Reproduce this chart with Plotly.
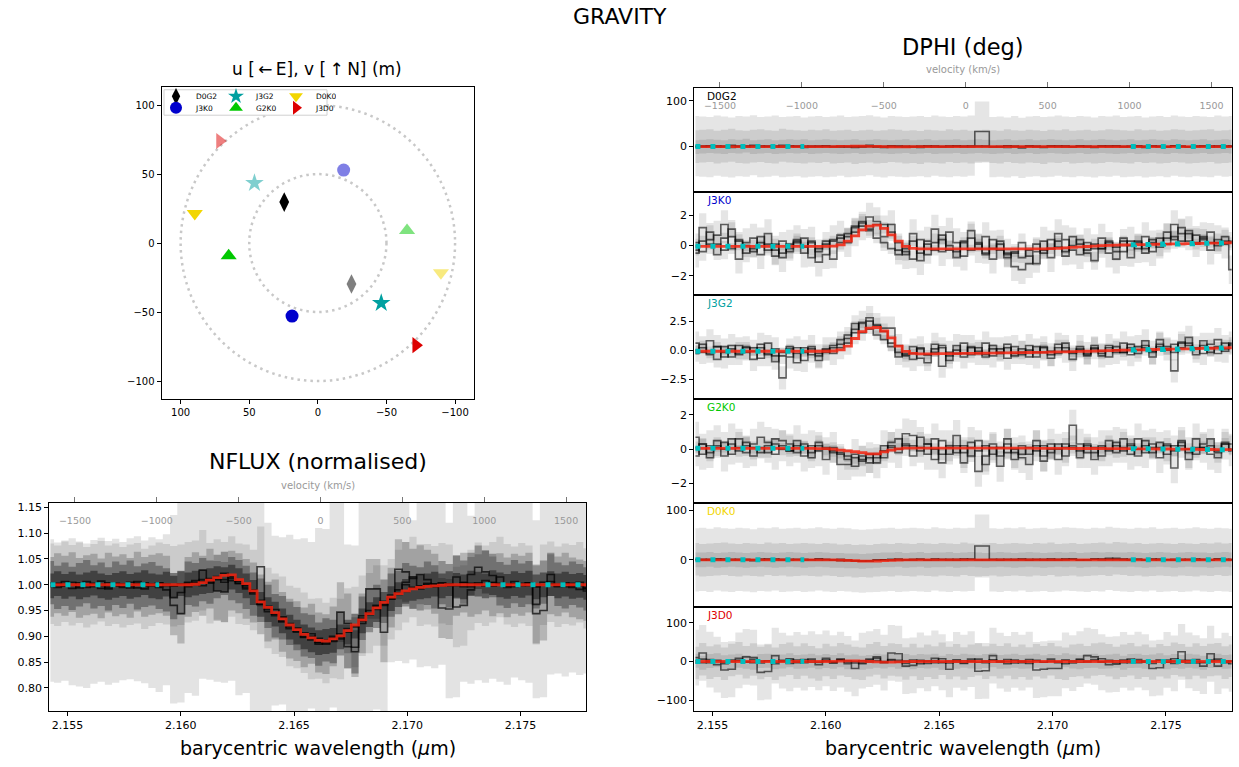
import plotly.graph_objects as go

# ======================= DATA =======================
wave = [
    2.15425, 2.15457, 2.15489, 2.15521, 2.15553, 2.15585, 2.15617, 2.15649, 2.15681, 2.15713, 2.15745, 2.15777, 2.15809, 2.15841, 2.15873,
    2.15905, 2.15937, 2.15969, 2.16001, 2.16033, 2.16065, 2.16097, 2.16129, 2.16161, 2.16193, 2.16225, 2.16257, 2.16289, 2.16321, 2.16353,
    2.16385, 2.16417, 2.16449, 2.16481, 2.16513, 2.16545, 2.16577, 2.16609, 2.16641, 2.16673, 2.16705, 2.16737, 2.16769, 2.16801, 2.16833,
    2.16865, 2.16897, 2.16929, 2.16961, 2.16993, 2.17025, 2.17057, 2.17089, 2.17121, 2.17153, 2.17185, 2.17217, 2.17249, 2.17281, 2.17313,
    2.17345, 2.17377, 2.17409, 2.17441, 2.17473, 2.17505, 2.17537, 2.17569, 2.17601, 2.17633, 2.17665, 2.17697, 2.17729, 2.17761, 2.17793,
]
continuum_ranges = [[2.1540, 2.1592], [2.1733, 2.1790]]
line_rest_wave = 2.16617
speed_of_light = 299792.458
wave_limits = [2.1542, 2.1779]

# ---- NFLUX ----
flux_model = [
    1.000, 1.000, 1.000, 1.000, 1.000, 1.000, 1.000, 1.000, 1.000, 1.000, 1.000, 1.000, 1.000, 1.000, 1.000,
    1.000, 1.000, 1.000, 1.000, 1.000, 1.001, 1.004, 1.009, 1.014, 1.018, 1.019, 1.010, 1.002, 0.988, 0.967,
    0.956, 0.946, 0.934, 0.922, 0.913, 0.904, 0.897, 0.892, 0.891, 0.895, 0.901, 0.911, 0.922, 0.932, 0.944,
    0.955, 0.966, 0.976, 0.983, 0.988, 0.992, 0.995, 0.997, 0.998, 0.999, 1.000, 1.000, 1.000, 1.000, 1.000,
    1.000, 1.000, 1.000, 1.000, 1.000, 1.000, 1.000, 1.000, 1.000, 1.000, 1.000, 1.000, 1.000, 1.000, 1.000,
]
flux_light_hi = [
    1.088, 1.082, 1.086, 1.090, 1.084, 1.080, 1.087, 1.091, 1.085, 1.089, 1.083, 1.090, 1.094, 1.086, 1.092,
    1.088, 1.098, 1.135, 1.170, 1.170, 1.170, 1.170, 1.170, 1.170, 1.170, 1.170, 1.170, 1.170, 1.170, 1.170,
    1.120, 1.095, 1.092, 1.097, 1.088, 1.090, 1.083, 1.110, 1.108, 1.170, 1.170, 1.078, 1.076, 1.170, 1.170,
    1.170, 1.170, 1.170, 1.170, 1.170, 1.125, 1.170, 1.170, 1.170, 1.170, 1.120, 1.170, 1.170, 1.134, 1.170,
    1.170, 1.170, 1.170, 1.170, 1.170, 1.170, 1.170, 1.125, 1.170, 1.170, 1.170, 1.170, 1.170, 1.170, 1.170,
]
flux_light_lo = [
    0.812, 0.810, 0.814, 0.805, 0.803, 0.800, 0.808, 0.812, 0.806, 0.810, 0.815, 0.817, 0.813, 0.809, 0.800,
    0.792, 0.805, 0.770, 0.772, 0.790, 0.785, 0.818, 0.816, 0.812, 0.810, 0.814, 0.786, 0.790, 0.755, 0.750,
    0.752, 0.766, 0.768, 0.750, 0.750, 0.750, 0.760, 0.755, 0.750, 0.762, 0.750, 0.750, 0.750, 0.755, 0.750,
    0.758, 0.750, 0.850, 0.852, 0.848, 0.855, 0.840, 0.842, 0.838, 0.845, 0.780, 0.782, 0.812, 0.808, 0.815,
    0.810, 0.818, 0.812, 0.806, 0.820, 0.815, 0.810, 0.780, 0.782, 0.826, 0.828, 0.822, 0.830, 0.825, 0.828,
]
flux_file_1 = [
    1.002, 0.998, 1.006, 0.999, 1.004, 0.995, 1.001, 1.007, 0.998, 1.002, 0.995, 1.000, 1.003, 0.992, 0.998,
    1.004, 1.001, 0.997, 1.000, 1.005, 1.008, 1.028, 1.003, 1.010, 1.005, 1.016, 1.002, 1.000, 0.990, 1.035,
    0.955, 0.944, 0.938, 0.920, 0.916, 0.907, 0.895, 0.896, 0.887, 0.897, 0.895, 0.915, 0.918, 0.940, 0.945,
    0.960, 0.960, 0.972, 0.990, 1.005, 1.015, 0.998, 1.001, 0.997, 1.003, 1.000, 0.957, 0.960, 0.990, 1.004,
    0.998, 1.005, 1.015, 1.001, 0.996, 1.003, 0.998, 0.962, 1.000, 1.006, 0.996, 1.002, 0.999, 1.005, 0.993,
]
flux_file_2 = [
    0.996, 1.003, 0.998, 1.005, 0.994, 0.999, 1.002, 0.993, 1.004, 0.997, 1.001, 0.994, 1.006, 0.996, 1.000,
    1.003, 0.998, 0.960, 0.944, 0.996, 1.005, 0.998, 1.012, 0.988, 0.986, 1.008, 1.003, 0.992, 0.985, 0.962,
    0.948, 0.952, 0.928, 0.915, 0.910, 0.898, 0.905, 0.888, 0.885, 0.900, 0.947, 0.925, 0.879, 0.925, 0.992,
    0.992, 0.908, 0.975, 1.030, 1.025, 1.012, 1.020, 1.010, 1.002, 0.955, 0.953, 0.998, 1.004, 0.996, 1.001,
    1.008, 0.997, 1.003, 0.995, 1.002, 0.998, 1.004, 0.944, 0.950, 1.001, 0.997, 1.004, 0.995, 0.991, 0.988,
]
flux_file_3 = [
    1.004, 0.995, 1.001, 0.993, 1.000, 1.006, 0.996, 1.001, 0.992, 1.003, 0.997, 1.005, 0.994, 0.999, 1.002,
    0.995, 0.990, 0.975, 0.985, 1.003, 1.000, 1.010, 1.005, 1.016, 1.022, 1.012, 1.006, 0.995, 0.982, 0.970,
    0.958, 0.940, 0.936, 0.925, 0.915, 0.903, 0.900, 0.885, 0.893, 0.890, 0.905, 0.880, 0.870, 0.935, 0.950,
    0.958, 0.968, 0.980, 0.985, 1.000, 0.995, 0.992, 1.003, 0.996, 1.004, 0.998, 1.015, 1.005, 1.020, 1.034,
    1.025, 1.018, 1.002, 0.997, 1.006, 0.999, 1.004, 0.996, 1.005, 1.020, 1.001, 0.996, 1.003, 0.998, 0.992,
]
flux_file_4 = [
    0.998, 1.002, 0.997, 1.001, 0.996, 1.000, 1.003, 0.998, 0.995, 0.999, 1.002, 0.997, 1.000, 1.004, 0.998,
    0.996, 1.001, 0.999, 1.002, 1.000, 1.003, 1.006, 1.008, 1.012, 1.010, 1.015, 1.008, 0.998, 0.985, 0.962,
    0.952, 0.943, 0.930, 0.918, 0.908, 0.899, 0.893, 0.888, 0.890, 0.892, 0.899, 0.908, 0.920, 0.930, 0.942,
    0.952, 0.962, 0.973, 0.981, 0.987, 0.993, 0.996, 0.998, 1.001, 0.998, 1.002, 0.999, 0.996, 1.003, 1.001,
    0.998, 1.004, 1.000, 0.997, 1.002, 0.999, 1.003, 0.996, 1.000, 1.002, 0.998, 1.001, 0.997, 0.999, 0.995,
]
flux_file_errors = [0.078, 0.058, 0.042, 0.024]

# ---- DPHI (deg) ----
dphi_D0G2_a = [
    1, 0, -1, 2, 0, -2, 1, 0, 3, -1, 0, 2, -1, 0, 1,
    -2, 0, 1, -1, 0, 2, -1, 0, 1, 3, 0, -2, 1, 0, -1,
    0, 1, -1, 2, 0, -1, 1, 0, 2, 33, 33, -1, 0, -2, 1,
    -3, 0, 1, -1, 0, 2, 0, -1, 1, 0, -2, 1, 0, 2, -1,
    0, 1, -2, 0, 1, -1, 2, 0, -1, 1, 0, -1, 2, 0, 1,
]
dphi_D0G2_b = [
    0, 1, 2, -1, 1, 3, 0, -1, 1, 2, 0, -1, 3, 1, 0,
    -1, 1, 0, 2, -1, 0, 1, -2, 0, 1, -1, 0, 2, 1, -1,
    0, -2, 1, 0, -1, 2, 0, 1, -1, 0, 1, 0, -1, 2, 0,
    -1, 1, 0, -2, 1, 0, 2, -1, 0, 1, -1, 0, 2, 1, 0,
    -1, 2, 0, 1, -1, 0, 2, 1, -1, 0, 1, 2, -1, 0, 1,
]
dphi_D0G2_c = [
    -1, 0, 1, 0, -1, 1, 0, 2, -1, 0, 1, -1, 0, 1, 0,
    1, -1, 0, 1, 0, -1, 0, 1, -1, 0, 1, 0, -1, 0, 1,
    -1, 0, 1, -1, 0, 0, 1, -1, 0, 1, 0, -1, 0, 1, -1,
    0, 1, -1, 0, 1, 0, -1, 0, 1, -1, 0, 1, 0, -1, 0,
    1, -1, 0, 1, 0, -1, 1, 0, -1, 0, 1, -1, 0, 1, 0,
]
dphi_D0G2_err = [66, 36, 15]
dphi_D0G2_model = [
    0, 0, 0, 0, 0, 0, 0, 0, 0, 0, 0, 0, 0, 0, 0,
    0, 0, 0, 0, 0, 0.3, 0.6, 0.8, 0.8, 0.6, 0.3, 0, -0.3, -0.5, -0.3,
    0, 0, 0, 0, 0, 0, 0, 0, 0, 0, 0, 0, 0, 0, 0,
    0, 0, 0, 0, 0, 0, 0, 0, 0, 0, 0, 0, 0, 0, 0,
    0, 0, 0, 0, 0, 0, 0, 0, 0, 0, 0, 0, 0, 0, 0,
]

dphi_J3K0_a = [
    -0.5, 1.2, 0.4, 0.7, 1.4, 0.6, -0.9, 0.2, 0.5, -0.6, 0.8, -0.3, -0.8, 0.1, 0.4,
    -0.5, 0.3, -1.1, -0.6, 0.4, 0.7, 0.2, 0.9, 1.3, 1.9, 1.6, 0.6, 1.4, -0.3, -0.6,
    0.8, -1.0, 0.3, 1.1, -0.4, 0.9, 0.2, -0.7, 0.5, -0.2, 0.6, -0.9, 0.1, -0.5, -1.4,
    -1.6, -1.2, -0.4, 0.3, -0.8, 0.8, 0.4, -0.3, -0.6, 0.2, -0.2, 0.5, -0.5, -0.9, -0.4,
    0.3, -0.2, 0.6, -0.4, 0.1, 0.5, 1.4, 0.8, 1.0, 0.2, 0.6, -0.3, 0.4, 0.1, -1.6,
]
dphi_J3K0_b = [
    0.2, -0.4, 0.9, 0.1, -0.3, 1.1, 0.3, -0.5, -0.2, 0.6, 0.1, -0.7, 0.3, -0.4, 0.2,
    0.5, -0.8, -0.2, 0.3, -0.9, 0.2, 0.6, 1.2, 1.5, 1.1, 1.4, 1.4, 0.9, 0.2, -0.4,
    -0.9, 0.4, -0.6, 0.2, 0.7, -0.3, -0.8, 0.3, 1.0, 0.2, -0.6, 0.4, -0.3, -0.8, -0.5,
    0.2, -0.7, -1.2, -0.3, 0.4, -0.1, -0.7, 0.6, 0.1, -0.5, -1.0, -0.2, 0.3, -0.4, 0.5,
    -0.8, 0.2, -0.5, 0.4, -0.1, 0.9, 0.4, 1.2, 0.3, 0.7, 0.5, 0.9, 0.2, 0.6, 0.3,
]
dphi_J3K0_c = [
    -0.3, 0.3, 0.1, -0.6, 0.5, -0.2, 0.4, 0.0, -0.4, 0.2, -0.3, 0.1, -0.5, -0.2, 0.3,
    -0.1, 0.2, -0.4, 0.1, 0.3, 0.5, 0.8, 1.3, 1.6, 1.0, 0.5, 0.2, -0.2, -0.6, -0.2,
    0.3, -0.5, 0.1, -0.3, 0.4, 0.0, -0.4, 0.2, -0.3, 0.1, -0.5, -0.2, 0.3, -0.6, -0.4,
    -0.8, -0.3, 0.1, -0.5, -0.2, 0.3, -0.4, 0.0, 0.4, -0.3, 0.1, -0.2, 0.2, -0.1, 0.3,
    0.0, 0.3, -0.2, 0.2, 0.5, 0.1, 0.6, 0.3, 0.8, 0.1, 0.4, 0.2, 0.0, 0.3, 0.2,
]
dphi_J3K0_err = [0.95, 0.6, 0.35]
dphi_J3K0_model = [
    -0.05, -0.05, -0.05, -0.05, -0.05, -0.05, -0.05, -0.05, -0.05, -0.05, -0.05, -0.05, -0.05, -0.05, -0.05,
    -0.05, -0.05, -0.05, -0.05, -0.03, 0.05, 0.3, 0.65, 1.05, 1.3, 1.36, 1.15, 0.72, 0.3, -0.05,
    -0.18, -0.21, -0.22, -0.22, -0.22, -0.22, -0.22, -0.22, -0.22, -0.22, -0.22, -0.22, -0.22, -0.22, -0.22,
    -0.22, -0.22, -0.22, -0.21, -0.2, -0.18, -0.15, -0.12, -0.09, -0.06, -0.03, 0.0, 0.02, 0.03, 0.04,
    0.05, 0.06, 0.07, 0.08, 0.09, 0.1, 0.11, 0.12, 0.13, 0.14, 0.15, 0.16, 0.17, 0.18, 0.19,
]

dphi_J3G2_a = [
    0.6, -0.2, 0.8, 0.3, -0.6, 0.4, -0.3, 0.2, -0.8, 0.5, -0.4, 0.1, -2.4, -0.6, 0.2,
    -0.9, 0.3, -0.5, 0.1, -0.3, 0.2, 0.6, 1.5, 2.4, 2.8, 2.2, 1.9, 1.9, 0.4, -0.5,
    -0.8, 0.2, -0.4, 0.5, -1.4, -0.2, 0.4, -0.6, 0.3, -0.3, 0.6, -0.5, 0.1, -0.7, 0.3,
    -0.2, 0.4, -0.6, 0.2, -0.4, 0.5, -0.1, -0.8, 0.3, -0.3, 0.2, -0.5, 0.4, -0.2, 0.6,
    -0.4, 0.3, 0.8, -0.2, 0.5, 0.1, -1.8, 0.6, 1.1, 0.2, -0.3, 0.5, 0.9, -0.1, 0.6,
]
dphi_J3G2_b = [
    -0.3, 0.5, -0.4, -0.8, 0.3, -0.6, 0.4, -0.2, 0.2, -0.7, 0.6, -1.0, -0.5, 0.3, -1.1,
    0.2, -0.4, -0.9, -0.2, 0.4, 0.9, 1.3, 2.3, 1.5, 2.5, 2.1, 1.6, 0.6, -0.6, -0.3,
    0.3, -0.7, -1.1, 0.1, 0.4, -0.9, -0.3, 0.6, -0.4, 0.2, -0.6, 0.4, -0.3, 0.5, -0.5,
    0.1, -0.6, 0.3, -0.2, -0.7, 0.2, 0.6, -0.3, 0.1, -0.5, 0.4, -0.1, -0.6, 0.3, -0.2,
    0.5, -0.3, 0.2, -0.6, 0.9, 0.3, -0.2, 0.7, 0.4, -0.4, 0.8, 0.2, -0.3, 0.6, 0.4,
]
dphi_J3G2_c = [
    0.0, 0.2, -0.3, 0.3, -0.2, 0.1, -0.4, 0.3, -0.1, 0.2, -0.3, -0.5, -0.2, 0.1, -0.3,
    -0.2, 0.1, -0.3, 0.0, 0.2, 0.5, 1.0, 1.8, 2.3, 1.8, 1.3, 0.9, 0.3, -0.2, -0.4,
    -0.3, 0.1, -0.4, -0.2, 0.2, -0.5, 0.0, -0.3, 0.2, -0.1, -0.4, 0.1, -0.2, 0.2, -0.3,
    -0.4, 0.0, -0.2, 0.3, -0.1, -0.3, 0.2, -0.2, 0.0, -0.4, 0.1, -0.3, 0.2, 0.0, -0.2,
    0.2, 0.0, 0.4, -0.1, 0.3, 0.0, 0.5, 0.2, 0.6, 0.1, 0.4, -0.2, 0.3, 0.1, 0.5,
]
dphi_J3G2_err = [1.0, 0.7, 0.4]
dphi_J3G2_model = [
    -0.1, -0.1, -0.1, -0.1, -0.1, -0.1, -0.1, -0.1, -0.1, -0.1, -0.1, -0.1, -0.1, -0.1, -0.1,
    -0.1, -0.1, -0.1, -0.1, -0.08, 0.02, 0.35, 1.0, 1.6, 1.9, 1.95, 1.65, 1.05, 0.35, -0.12,
    -0.28, -0.32, -0.32, -0.32, -0.31, -0.3, -0.3, -0.29, -0.28, -0.28, -0.27, -0.26, -0.25, -0.24, -0.23,
    -0.22, -0.21, -0.2, -0.19, -0.18, -0.16, -0.15, -0.13, -0.12, -0.1, -0.09, -0.07, -0.05, -0.03, -0.01,
    0.0, 0.02, 0.03, 0.05, 0.06, 0.07, 0.08, 0.1, 0.11, 0.13, 0.14, 0.16, 0.17, 0.19, 0.2,
]

dphi_G2K0_a = [
    0.7, -0.3, 0.2, 0.5, -0.4, 0.6, 0.1, -0.2, 0.3, 0.7, 0.4, -0.3, 0.2, -0.1, 0.5,
    -0.4, 0.2, -0.1, -0.6, 0.1, -0.9, -0.9, -0.3, -0.7, -0.5, -0.8, 0.2, 0.1, -0.2, 0.9,
    0.8, 0.1, -0.3, 0.6, -0.8, 0.2, 0.8, -0.2, 0.4, -1.3, -0.4, 0.1, -1.0, 0.3, -0.2,
    -0.5, -0.9, 0.2, -0.4, 0.3, -0.6, 0.1, 1.4, 0.3, -0.2, -0.6, 0.2, -0.1, 0.4, 0.1,
    -0.3, 0.6, -0.2, 0.3, -0.5, 0.2, -1.1, 0.4, -0.2, 0.6, 0.1, -0.3, -0.5, 0.3, -0.1,
]
dphi_G2K0_b = [
    -0.4, 0.3, -0.5, 0.1, 0.4, -0.3, 0.6, 0.2, -0.4, 0.1, -0.2, 0.6, 0.5, 0.3, -0.2,
    0.3, -0.5, 0.4, 0.1, -0.2, -0.3, -0.6, -1.0, -0.4, -0.8, -0.3, -0.5, 0.4, 0.6, 0.2,
    -0.4, 0.7, 0.3, -0.6, 0.5, -0.3, 0.2, -0.8, 0.1, 0.5, -0.9, 0.3, -0.4, 0.6, -0.6,
    0.2, -0.3, 0.5, -0.7, 0.0, 0.3, -0.4, 0.2, -0.5, 0.3, 0.1, -0.4, 0.5, -0.2, 0.6,
    0.2, -0.4, 0.5, 0.1, 0.4, -0.3, 0.2, 0.5, -0.6, 0.1, 0.3, 0.6, -0.2, 0.4, 0.3,
]
dphi_G2K0_c = [
    0.1, 0.3, -0.2, 0.2, 0.0, 0.3, -0.1, 0.4, 0.1, -0.2, 0.2, 0.3, 0.0, -0.1, 0.2,
    0.1, -0.2, 0.2, 0.0, -0.1, -0.2, -0.4, -0.5, -0.6, -0.3, -0.5, -0.1, 0.2, 0.0, 0.3,
    0.2, -0.1, 0.3, 0.0, -0.3, 0.1, -0.2, 0.2, -0.4, -0.1, 0.2, -0.3, 0.1, -0.2, 0.0,
    -0.3, 0.1, -0.1, 0.2, -0.2, 0.0, 0.3, 0.1, -0.1, 0.2, -0.2, 0.1, 0.0, 0.2, -0.1,
    0.3, 0.0, 0.2, -0.2, 0.1, 0.3, -0.1, 0.2, 0.0, -0.3, 0.1, 0.2, -0.1, 0.3, 0.0,
]
dphi_G2K0_err = [0.9, 0.6, 0.35]
dphi_G2K0_model = [
    0.05, 0.05, 0.05, 0.05, 0.05, 0.05, 0.05, 0.05, 0.05, 0.05, 0.05, 0.05, 0.05, 0.05, 0.05,
    0.05, 0.05, 0.03, 0.03, 0.0, -0.05, -0.1, -0.15, -0.2, -0.27, -0.28, -0.16, -0.05, 0.02, 0.06,
    0.06, 0.06, 0.06, 0.06, 0.06, 0.06, 0.06, 0.06, 0.06, 0.06, 0.06, 0.06, 0.06, 0.06, 0.06,
    0.06, 0.06, 0.05, 0.05, 0.05, 0.05, 0.05, 0.04, 0.04, 0.04, 0.04, 0.04, 0.03, 0.03, 0.03,
    0.03, 0.02, 0.02, 0.02, 0.01, 0.01, 0.0, 0.0, 0.0, -0.01, -0.02, -0.02, -0.03, -0.03, -0.03,
]

dphi_D0K0_a = [
    0, 1, -1, 2, 0, -1, 1, 0, -2, 1, 0, 2, -1, 0, 1,
    -1, 0, 2, 0, -1, 1, 0, -2, -3, -2, -1, 0, 1, -1, 0,
    1, 0, -1, 2, 0, -1, 1, 0, 1, 28, 28, 0, -1, 1, 0,
    2, -1, 0, 1, -1, 0, 2, 1, 0, -1, 1, 0, 3, 1, 0,
    -1, 1, 0, 2, -1, 0, 1, -1, 0, 2, 0, -1, 1, 0, -1,
]
dphi_D0K0_b = [
    1, -1, 0, 1, 2, 0, -1, 1, 0, -1, 2, 0, 1, -1, 0,
    1, 0, -1, 1, 0, -2, -1, -3, -2, -3, -1, 0, -1, 1, 0,
    -1, 1, 0, -1, 1, 0, -1, 2, 0, -1, 0, 1, -1, 0, 1,
    0, -1, 1, 0, 2, -1, 0, 1, -1, 0, 1, 2, 0, 3, 2,
    0, 1, -1, 0, 1, 0, -1, 1, 0, -1, 1, 0, 2, 0, 1,
]
dphi_D0K0_c = [
    0, 0, 1, -1, 0, 1, 0, -1, 0, 1, 0, -1, 0, 1, 0,
    -1, 0, 1, 0, -1, -1, -2, -2, -3, -2, -1, 0, 0, 1, -1,
    0, 1, -1, 0, 0, 1, -1, 0, 1, 0, -1, 0, 1, 0, -1,
    0, 1, 0, -1, 0, 1, 0, 1, -1, 0, 1, 0, 1, 0, 0,
    1, 0, -1, 0, 1, 0, -1, 0, 1, 0, 0, -1, 0, 1, 0,
]
dphi_D0K0_err = [64, 33, 15]
dphi_D0K0_model = [
    0, 0, 0, 0, 0, 0, 0, 0, 0, 0, 0, 0, 0, 0, 0,
    0, 0, 0, 0, 0, -0.5, -1, -1.8, -2.5, -2.7, -2.4, -1.8, -1, -0.4, 0,
    0, 0, 0, 0, 0, 0, 0, 0, 0, 0, 0, 0, 0, 0, 0,
    0, 0, 0, 0, 0, 0, 0, 0, 0, 0, 0, 0, 0, 0, 0,
    0, 0, 0, 0, 0, 0, 0, 0, 0, 0, 0, 0, 0, 0, 0,
]

dphi_J3D0_a = [
    10, 22, 5, -8, -22, -20, 3, 12, 10, -28, -26, 15, 2, -5, 4,
    -3, 6, -2, 8, -4, 5, -6, -18, 2, 6, 12, -3, 22, 20, -12,
    -10, 3, -5, 8, -2, -20, 4, -3, 6, -25, -24, 15, 2, -6, 4,
    -3, 5, -22, -20, -18, -18, 3, -4, 6, 15, 12, -2, -8, -7, 4,
    -3, 5, -2, -18, -16, 4, -5, 25, 3, -4, -12, 20, -12, 2, -6,
]
dphi_J3D0_b = [
    -4, 6, -3, 2, -6, 4, 8, -2, 5, -4, 2, -6, 3, 7, -3,
    5, -2, -8, 4, -3, 6, 2, -4, -6, 3, 8, -2, 5, 3, -5,
    4, -6, 2, -3, 7, -4, 3, -5, 2, 6, -3, 4, -2, 5, -4,
    2, -5, 3, -2, 6, -3, -6, 2, 4, -2, 5, 7, 3, -4, 2,
    6, -3, 2, -5, 3, -2, 7, 3, -4, 5, -2, 4, 6, -3, 2,
]
dphi_J3D0_c = [
    2, -3, 1, 3, -2, 0, 2, -1, -3, 1, 2, -2, 0, 3, -1,
    0, 2, -2, 1, -1, 3, -2, 0, -3, -1, 2, 0, 3, -1, 1,
    -2, 1, 0, 2, -3, 1, -1, 2, 0, -2, 1, 3, -1, 0, 2,
    -1, 0, 2, -2, 1, -1, 3, 0, -2, 1, 2, -1, 0, 2, -3,
    1, 2, -1, 0, 3, -2, 1, -1, 2, 0, -3, 1, 2, -1, 0,
]
dphi_J3D0_err = [72, 42, 18]
dphi_J3D0_model = [
    0, 0, 0, 0, 0, 0, 0, 0, 0, 0, 0, 0, 0, 0, 0,
    0, 0, 0, 0, 0.5, 1, 1.5, 1.5, 1, 0, -1, -1.5, -1.5, -1, -0.5,
    0, 0, 0, 0, 0, 0, 0, 0, 0, 0, 0, 0, 0, 0, 0,
    0, 0, 0, 0, 0, 0, 0, 0, 0, 0, 0, 0, 0, 0, 0,
    0, 0, 0, 0, 0, 0, 0, 0, 0, 0, 0, 0, 0, 0, 0,
]

# ---- baselines / uv ----
baselines = ["D0G2", "J3K0", "J3G2", "G2K0", "D0K0", "J3D0"]
baseline_colors = ["#000000", "#0000cc", "#00a0a0", "#00c800", "#f2d600", "#dd0000"]
baseline_symbols = ["diamond-tall", "circle", "star", "triangle-up", "triangle-down", "triangle-right"]
baseline_marker_sizes = [14, 13, 14, 14, 14, 14]
uv_u = [24.5, 18.8, -46.2, 65.0, 89.7, -71.5]
uv_v = [29.7, -52.9, -43.5, -9.2, 21.5, -74.0]
uv_radii = [50, 100]

dphi_panels = [
    ([dphi_D0G2_a, dphi_D0G2_b, dphi_D0G2_c], dphi_D0G2_err, dphi_D0G2_model, [-98.5, 129], [0, 100]),
    ([dphi_J3K0_a, dphi_J3K0_b, dphi_J3K0_c], dphi_J3K0_err, dphi_J3K0_model, [-3.3, 3.6], [-2, 0, 2]),
    ([dphi_J3G2_a, dphi_J3G2_b, dphi_J3G2_c], dphi_J3G2_err, dphi_J3G2_model, [-4.25, 4.74], [-2.5, 0, 2.5]),
    ([dphi_G2K0_a, dphi_G2K0_b, dphi_G2K0_c], dphi_G2K0_err, dphi_G2K0_model, [-3.16, 2.92], [-2, 0, 2]),
    ([dphi_D0K0_a, dphi_D0K0_b, dphi_D0K0_c], dphi_D0K0_err, dphi_D0K0_model, [-96.1, 114.8], [0, 100]),
    ([dphi_J3D0_a, dphi_J3D0_b, dphi_J3D0_c], dphi_J3D0_err, dphi_J3D0_model, [-127.6, 140], [-100, 0, 100]),
]

# ======================= FIGURE =======================
W, H = 1239, 767
FONT = "DejaVu Sans"
fig = go.Figure()


def fx(p):
    return p / W


def fy(p):
    return 1 - p / H


def to_vel(lam):
    return (lam / line_rest_wave - 1.0) * speed_of_light


def in_cont(lam):
    return any(a <= lam <= b for a, b in continuum_ranges)


def add_fill(x, lo, hi, color, xa, ya):
    fig.add_trace(go.Scatter(x=x, y=lo, mode="lines", line=dict(width=0, shape="hvh"),
                             xaxis=xa, yaxis=ya, showlegend=False, hoverinfo="skip"))
    fig.add_trace(go.Scatter(x=x, y=hi, mode="lines", line=dict(width=0, shape="hvh"),
                             fill="tonexty", fillcolor=color,
                             xaxis=xa, yaxis=ya, showlegend=False, hoverinfo="skip"))


def add_step(x, y, color, width, xa, ya, dash=None):
    fig.add_trace(go.Scatter(x=x, y=y, mode="lines",
                             line=dict(color=color, width=width, shape="hvh", dash=dash),
                             connectgaps=False, xaxis=xa, yaxis=ya,
                             showlegend=False, hoverinfo="skip"))


LINE_BLACK = "rgba(0,0,0,0.6)"
RED = "rgba(245,35,15,0.85)"
CYAN = "#00bfbf"
CYAN_DASH = "5px,10px"

# ---------- UV plot ----------
for i, name in enumerate(baselines):
    fig.add_trace(go.Scatter(
        x=[-uv_u[i]], y=[-uv_v[i]], mode="markers",
        marker=dict(symbol=baseline_symbols[i], size=baseline_marker_sizes[i], color=baseline_colors[i],
                    opacity=0.5, line=dict(width=0)),
        xaxis="x", yaxis="y", showlegend=False, hoverinfo="skip"))
for i, name in enumerate(baselines):
    fig.add_trace(go.Scatter(
        x=[uv_u[i]], y=[uv_v[i]], mode="markers", name=name, legendrank=i + 1,
        marker=dict(symbol=baseline_symbols[i], size=baseline_marker_sizes[i], color=baseline_colors[i],
                    line=dict(width=0)),
        xaxis="x", yaxis="y", legend="legend" if i % 2 == 0 else "legend2"))

shapes = []
for r in uv_radii:
    shapes.append(dict(type="circle", xref="x", yref="y", x0=-r, x1=r, y0=-r, y1=r,
                       line=dict(color="#c8c8c8", width=2.5, dash="2.5px,4px"), layer="below"))
shapes.append(dict(type="rect", xref="paper", yref="paper", x0=fx(164), x1=fx(327), y0=fy(113.5), y1=fy(88),
                   line=dict(color="#d0d0d0", width=1), fillcolor="white", layer="above"))

# ---------- NFLUX ----------
add_fill(wave, flux_light_lo, flux_light_hi, "#e3e3e3", "x2", "y2")
flux_files = [flux_file_1, flux_file_2, flux_file_3, flux_file_4]
flux_alphas = [0.1, 0.2, 0.3, 0.42]
for f, e, a in zip(flux_files, flux_file_errors, flux_alphas):
    add_fill(wave, [v - e for v in f], [v + e for v in f], "rgba(0,0,0,%.2f)" % a, "x2", "y2")
for f in flux_files:
    add_step(wave, f, "rgba(0,0,0,0.7)", 1.6, "x2", "y2")
add_step(wave, flux_model, RED, 2.8, "x2", "y2")
add_step(wave, [m if in_cont(w) else None for w, m in zip(wave, flux_model)], CYAN, 5, "x2", "y2", CYAN_DASH)
fig.add_trace(go.Scatter(x=[to_vel(wave_limits[0]), to_vel(wave_limits[1])], y=[None, None], mode="lines",
                         xaxis="x3", yaxis="y2", showlegend=False, hoverinfo="skip"))

# ---------- DPHI ----------
panel_px = [(86, 190), (190, 294), (294, 398.3), (398.3, 502.5), (502.5, 606.8), (606.8, 710.8)]
for p, (files, errs, model, yr, tv) in enumerate(dphi_panels):
    xa, ya = "x%d" % (4 + p), "y%d" % (4 + p)
    for f, e in zip(files, errs):
        add_fill(wave, [v - e for v in f], [v + e for v in f], "rgba(0,0,0,0.1)", xa, ya)
    for f in files:
        add_step(wave, f, LINE_BLACK, 1.6, xa, ya)
    add_step(wave, model, RED, 2.8, xa, ya)
    add_step(wave, [m if in_cont(w) else None for w, m in zip(wave, model)], CYAN, 5, xa, ya, CYAN_DASH)
fig.add_trace(go.Scatter(x=[to_vel(wave_limits[0]), to_vel(wave_limits[1])], y=[None, None], mode="lines",
                         xaxis="x10", yaxis="y4", showlegend=False, hoverinfo="skip"))

# ---------- axes ----------
common = dict(showline=True, linecolor="black", linewidth=1.3, mirror=True, showgrid=False, zeroline=False,
              ticks="outside", ticklen=4, tickwidth=1, tickcolor="black",
              tickfont=dict(family=FONT, size=11, color="black"))
vel_axis = dict(side="top", ticks="outside", ticklen=5, tickwidth=1, tickcolor="#777777",
                ticklabelstandoff=-31,
                tickfont=dict(family=FONT, size=9.5, color="#999999"),
                tickvals=[-1500, -1000, -500, 0, 500, 1000, 1500],
                range=[to_vel(wave_limits[0]), to_vel(wave_limits[1])],
                showline=False, showgrid=False, zeroline=False)

layout = dict(
    width=W, height=H, autosize=False, margin=dict(l=0, r=0, t=0, b=0),
    paper_bgcolor="white", plot_bgcolor="white", font=dict(family=FONT, color="black"),
    xaxis=dict(domain=[fx(161.7), fx(474)], range=[113.8, -113.8], tickvals=[100, 50, 0, -50, -100],
               anchor="y", **{**common, "tickfont": dict(family=FONT, size=10, color="black")}),
    yaxis=dict(domain=[fy(397.7), fy(85.7)], range=[-112.8, 112.8], tickvals=[-100, -50, 0, 50, 100],
               anchor="x", **{**common, "tickfont": dict(family=FONT, size=10, color="black")}),
    xaxis2=dict(domain=[fx(49.3), fx(586.3)], range=wave_limits, anchor="y2",
                tickvals=[2.155, 2.160, 2.165, 2.170, 2.175], tickformat=".3f", **common),
    yaxis2=dict(domain=[fy(711), fy(502.3)], range=[0.755, 1.1585], anchor="x2",
                tickvals=[0.80, 0.85, 0.90, 0.95, 1.00, 1.05, 1.10, 1.15], tickformat=".2f", **common),
    xaxis3=dict(overlaying="x2", anchor="y2", **vel_axis),
    xaxis10=dict(overlaying="x4", anchor="y4", **vel_axis),
    legend=dict(x=fx(156), y=fy(80), xanchor="left", yanchor="top", orientation="h", traceorder="normal",
                font=dict(family=FONT, size=7.5), bgcolor="rgba(0,0,0,0)", borderwidth=0,
                entrywidth=15, itemwidth=30, itemsizing="constant"),
    legend2=dict(x=fx(156), y=fy(91.5), xanchor="left", yanchor="top", orientation="h", traceorder="normal",
                 font=dict(family=FONT, size=7.5), bgcolor="rgba(0,0,0,0)", borderwidth=0,
                 entrywidth=15, itemwidth=30, itemsizing="constant"),
    shapes=shapes,
    showlegend=True,
)
for p, (files, errs, model, yr, tv) in enumerate(dphi_panels):
    top, bot = panel_px[p]
    last = p == len(dphi_panels) - 1
    xa = dict(domain=[fx(694.3), fx(1231.7)], range=wave_limits, anchor="y%d" % (4 + p), **common)
    if last:
        xa.update(tickvals=[2.155, 2.160, 2.165, 2.170, 2.175], tickformat=".3f")
    else:
        xa.update(showticklabels=False, ticks="")
    layout["xaxis%d" % (4 + p)] = xa
    ya = dict(domain=[fy(bot), fy(top)], range=yr, tickvals=tv, anchor="x%d" % (4 + p), **common)
    if p == 2:
        ya.update(tickformat=".1f")
    layout["yaxis%d" % (4 + p)] = ya

fig.update_layout(**layout)

# ---------- annotations ----------
ann = []


def text(x, y, s, size, color="black", xanchor="center", yanchor="middle", xref="paper", yref="paper"):
    ann.append(dict(x=x, y=y, xref=xref, yref=yref, text=s, showarrow=False, xanchor=xanchor, yanchor=yanchor,
                    font=dict(family=FONT, size=size, color=color)))


text(0.5, fy(15), "GRAVITY", 22)
text(fx(317), fy(67), "u [\u2009\u2190\u2009E], v [\u2009\u2191\u2009N] (m)", 17)
text(fx(318), fy(461), "NFLUX (normalised)", 22)
text(fx(318), fy(485), "velocity (km/s)", 10, "#999999")
text(fx(318), fy(748), "barycentric wavelength (<i>\u03bc</i>m)", 19)
text(fx(963), fy(45), "DPHI (deg)", 22.5)
text(fx(963), fy(68), "velocity (km/s)", 10, "#999999")
text(fx(963), fy(748), "barycentric wavelength (<i>\u03bc</i>m)", 19)
for p, name in enumerate(baselines):
    text(0.02, 1.0, name, 10.5, baseline_colors[p], "left", "top",
         "x%d domain" % (4 + p), "y%d domain" % (4 + p))
fig.update_layout(annotations=ann)

fig.write_html("out.html")
